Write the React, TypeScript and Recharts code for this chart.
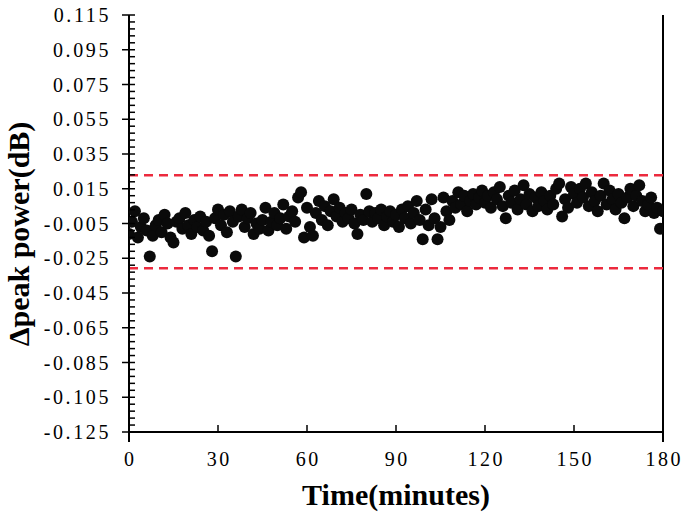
import React from "react";
import { ScatterChart, Scatter, XAxis, YAxis, ReferenceLine } from "recharts";

// Δpeak power (dB), one sample per minute from 0 to 180 min
const deltaPower: number[] = [
  -0.011, -0.004, 0.002, -0.013, -0.007, -0.002, -0.009, -0.024, -0.012, -0.006,
  -0.003, -0.010, 0.000, -0.005, -0.013, -0.016, -0.004, -0.002, -0.008, 0.001,
  -0.006, -0.011, -0.003, -0.007, -0.001, -0.009, -0.004, -0.012, -0.021, -0.002,
  0.003, -0.006, 0.000, -0.010, 0.002, -0.004, -0.024, -0.001, 0.003, -0.007,
  -0.002, 0.001, -0.011, -0.005, -0.008, -0.003, 0.004, -0.009, -0.004, 0.001,
  -0.006, -0.002, 0.006, -0.008, -0.001, 0.002, -0.004, 0.010, 0.013, -0.013,
  0.004, -0.007, -0.012, 0.001, 0.008, -0.003, 0.005, -0.006, 0.002, 0.009,
  -0.001, 0.004, -0.004, 0.001, -0.002, 0.003, -0.005, -0.011, 0.000, -0.003,
  0.012, 0.002, -0.004, 0.001, -0.002, 0.003, -0.006, -0.001, 0.002, -0.004,
  0.000, -0.007, 0.003, -0.002, 0.005, -0.005, 0.001, 0.008, -0.003, -0.014,
  0.003, -0.006, 0.009, -0.002, -0.014, -0.007, 0.010, 0.002, -0.003, 0.008,
  0.004, 0.013, 0.006, 0.011, 0.002, 0.008, 0.012, 0.006, 0.010, 0.014,
  0.007, 0.011, 0.004, 0.013, 0.009, 0.016, 0.005, -0.002, 0.011, 0.007,
  0.014, 0.003, 0.009, 0.017, 0.006, 0.012, 0.002, 0.010, 0.005, 0.013,
  0.008, 0.003, 0.011, 0.006, 0.015, 0.018, -0.001, 0.009, 0.004, 0.016,
  0.012, 0.007, 0.015, 0.010, 0.018, 0.005, 0.013, 0.008, 0.002, 0.011,
  0.018, 0.006, 0.014, 0.009, 0.003, 0.012, 0.007, -0.002, 0.010, 0.015,
  0.005, 0.011, 0.017, 0.008, 0.002, 0.006, 0.010, 0.001, 0.004, -0.008,
  0.002,
];

const xTicks: number[] = [0, 30, 60, 90, 120, 150, 180];
const yMajorTicks: number[] = [
  -0.125, -0.105, -0.085, -0.065, -0.045, -0.025, -0.005, 0.015, 0.035, 0.055, 0.075, 0.095, 0.115,
];
const limitLines: number[] = [0.0227, -0.0308];

const yAllTicks: number[] = [];
yMajorTicks.forEach((t, i) => {
  yAllTicks.push(t);
  if (i < yMajorTicks.length - 1) {
    for (let k = 1; k < 5; k++) yAllTicks.push(+(t + k * 0.004).toFixed(4));
  }
});

const data = deltaPower.map((v, i) => ({ t: i, v }));

const FONT = "Liberation Serif";

const YTick = (props: any) => {
  const { x, y, payload } = props;
  const v = payload.value as number;
  const major = yMajorTicks.some((m) => Math.abs(m - v) < 1e-6);
  return (
    <g>
      <line x1={major ? x - 7 : x} x2={x + 6} y1={y} y2={y} stroke="#000" strokeWidth={1.5} />
      {major && (
        <text x={x - 18} y={y + 7} textAnchor="end" fontFamily={FONT} fontSize="20" letterSpacing="2.6" fill="#000">
          {v.toFixed(3)}
        </text>
      )}
    </g>
  );
};

const XTick = (props: any) => {
  const { x, y, payload } = props;
  const edge = payload.value === xTicks[0] || payload.value === xTicks[xTicks.length - 1];
  return (
    <g>
      <line x1={x} x2={x} y1={y} y2={y - 7} stroke="#000" strokeWidth={1.5} />
      {edge && <line x1={x} x2={x} y1={y} y2={y + 10} stroke="#000" strokeWidth={2} />}
      <text x={x + 1.3} y={y + 34} textAnchor="middle" fontFamily={FONT} fontSize="20" letterSpacing="2.6" fill="#000">
        {payload.value}
      </text>
    </g>
  );
};

const YLabel = () => (
  <text
    x={29}
    y={234}
    transform="rotate(-90 29 234)"
    textAnchor="middle"
    fontFamily={FONT}
    fontWeight="bold"
    fontSize="30"
    fill="#000"
  >
    Δpeak power(dB)
  </text>
);

const XLabel = () => (
  <text x={396} y={505} textAnchor="middle" fontFamily={FONT} fontWeight="bold" fontSize="30" fill="#000">
    Time(minutes)
  </text>
);

const Dot = (props: any) => <circle cx={props.cx} cy={props.cy} r={6} fill="#0a0a0a" />;

export default function App() {
  return (
    <div style={{ position: "absolute", left: 0, top: 0, width: 685, height: 514, background: "#fff" }}>
      <ScatterChart width={685} height={514} margin={{ top: 15, right: 22, bottom: 0, left: 0 }}>
        <XAxis
          type="number"
          dataKey="t"
          domain={[0, 180]}
          ticks={xTicks}
          interval={0}
          height={82}
          tickSize={0}
          tickMargin={0}
          tickLine={false}
          axisLine={{ stroke: "#000", strokeWidth: 2 }}
          tick={<XTick />}
          label={<XLabel />}
          allowDataOverflow
        />
        <YAxis
          type="number"
          dataKey="v"
          domain={[-0.125, 0.115]}
          ticks={yAllTicks}
          interval={0}
          width={129}
          tickSize={0}
          tickMargin={0}
          tickLine={false}
          axisLine={{ stroke: "#000", strokeWidth: 2 }}
          tick={<YTick />}
          label={<YLabel />}
          allowDataOverflow
        />
        <ReferenceLine x={180} stroke="#000" strokeWidth={2} />
        {limitLines.map((l) => (
          <ReferenceLine key={l} y={l} stroke="#ec2a3e" strokeWidth={2.5} strokeDasharray="9 6" />
        ))}
        <Scatter data={data} isAnimationActive={false} shape={<Dot />} />
      </ScatterChart>
    </div>
  );
}
